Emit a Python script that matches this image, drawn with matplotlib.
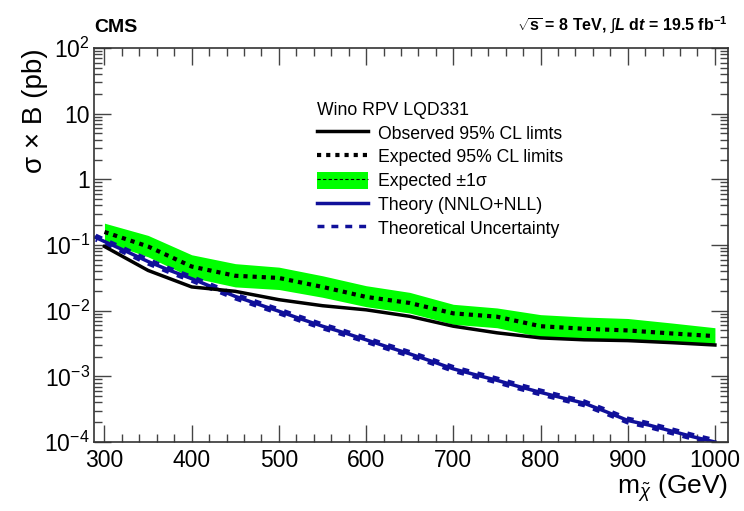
import numpy as np
import matplotlib
matplotlib.use("Agg")
import matplotlib.pyplot as plt
from matplotlib.lines import Line2D
from matplotlib.patches import Patch
from matplotlib.ticker import FixedLocator, LogLocator, NullFormatter, MultipleLocator

plt.rcParams["font.family"] = ["Liberation Sans", "DejaVu Sans"]
plt.rcParams["mathtext.fontset"] = "custom"
plt.rcParams["mathtext.rm"] = "Liberation Sans"
plt.rcParams["mathtext.it"] = "Liberation Sans:italic"
plt.rcParams["mathtext.bf"] = "Liberation Sans:bold"
plt.rcParams["mathtext.bfit"] = "Liberation Sans:bold:italic"

# limits (pb) vs chargino mass (GeV)
mass = [300, 350, 400, 450, 500, 550, 600, 650, 700, 750, 800, 850, 900, 950, 1000]
observed = [0.095, 0.041, 0.023, 0.0197, 0.0147, 0.0119, 0.0103, 0.0082,
            0.0058, 0.0046, 0.00385, 0.0036, 0.0035, 0.00326, 0.0030]
expected = [0.158, 0.095, 0.047, 0.034, 0.0315, 0.023, 0.0162, 0.0131,
            0.0091, 0.0081, 0.0058, 0.0053, 0.0050, 0.0045, 0.0041]
exp_up = [0.215, 0.14, 0.071, 0.052, 0.046, 0.034, 0.024, 0.019,
          0.0125, 0.011, 0.0087, 0.0080, 0.0076, 0.0065, 0.0055]
exp_down = [0.112, 0.066, 0.032, 0.023, 0.021, 0.016, 0.0115, 0.0092,
            0.0062, 0.0055, 0.0040, 0.0037, 0.0036, 0.0033, 0.0031]

theory_mass = [290, 300, 325, 350, 375, 400, 425, 450, 475, 500, 525, 550, 575,
               600, 625, 650, 675, 700, 725, 750, 775, 800, 825, 850, 875, 900,
               925, 950, 975, 1000]
theory = [0.13, 0.113, 0.08, 0.056, 0.041, 0.0307, 0.0225, 0.0165, 0.0127,
          0.0098, 0.0075, 0.0058, 0.0046, 0.0036, 0.0028, 0.0022, 0.0017,
          0.0013, 0.00106, 0.00087, 0.0007, 0.00057, 0.00047, 0.00039,
          0.00029, 0.000213, 0.00018, 0.000147, 0.00012, 0.0001]
theory_err = 0.08  # relative theory uncertainty

blue = "#10109a"

fig = plt.figure(figsize=(7.44, 5.11), dpi=100)
ax = fig.add_axes([94 / 744, 1 - 442 / 511, 634 / 744, 394 / 511])

ax.fill_between(mass, exp_down, exp_up, color="#00ff00", lw=0, zorder=1)
th = np.array(theory)
ax.plot(theory_mass, th, color=blue, lw=2.5, zorder=2)
ax.plot(theory_mass, th * (1 + theory_err), color=blue, lw=2.5, ls=(0, (2, 2.5)), zorder=2)
ax.plot(theory_mass, th * (1 - theory_err), color=blue, lw=2.5, ls=(1.5, (2, 2.5)), zorder=2)
ax.plot(mass, observed, color="black", lw=2.5, zorder=3)
ax.plot(mass, expected, color="black", lw=3, ls=(0, (1, 1.2)), zorder=3)

ax.set_yscale("log")
ax.set_xlim(288, 1015)
ax.set_ylim(1e-4, 1e2)

ax.xaxis.set_major_locator(MultipleLocator(100))
ax.xaxis.set_minor_locator(MultipleLocator(20))
ax.yaxis.set_minor_locator(LogLocator(base=10, subs=np.arange(2, 10), numticks=10))
ax.yaxis.set_minor_formatter(NullFormatter())
ylabels = {1e2: r"10$^{2}$", 1e1: "10", 1e0: "1", 1e-1: r"10$^{-1}$",
           1e-2: r"10$^{-2}$", 1e-3: r"10$^{-3}$", 1e-4: r"10$^{-4}$"}
ax.yaxis.set_major_locator(FixedLocator(list(ylabels.keys())))
ax.set_yticklabels(list(ylabels.values()))

ax.tick_params(which="both", direction="in", top=True, right=True,
               labelsize=16.5, color="#444444")
ax.tick_params(which="major", length=12, width=1)
ax.tick_params(which="minor", length=6, width=1)
ax.tick_params(axis="y", pad=3)
ax.tick_params(axis="x", pad=5)
for s in ax.spines.values():
    s.set_color("#333333")
    s.set_linewidth(1.2)

ax.set_ylabel("σ × B (pb)", fontsize=20, loc="top")
ax.yaxis.set_label_coords(-0.073, 1.0)
ax.set_xlabel(r"m$_{\tilde{\chi}}$ (GeV)", fontsize=19, loc="right", labelpad=0)

fig.text(94 / 744, 1 - 27 / 511, "CMS", fontsize=14, fontweight="bold",
         ha="left", va="center")
fig.text(728 / 744, 1 - 25 / 511,
         r"$\sqrt{\mathbf{s}}$ = 8 TeV, $\int\mathbfit{L}$ d$\mathbfit{t}$ = 19.5 fb$^{\mathbf{-1}}$",
         fontsize=11.5, fontweight="bold", ha="right", va="center")

handles = [
    Line2D([], [], color="black", lw=2.5),
    Line2D([], [], color="black", lw=3, ls=(0, (1, 1.2))),
    (Patch(facecolor="#00ff00", edgecolor="none"), Line2D([], [], color="black", lw=0.8, ls=(0, (3, 2)))),
    Line2D([], [], color=blue, lw=2.5),
    Line2D([], [], color=blue, lw=2.5, ls=(0, (2, 2))),
]
labels = ["Observed 95% CL limts", "Expected 95% CL limits", "Expected ±1σ",
          "Theory (NNLO+NLL)", "Theoretical Uncertainty"]
leg = ax.legend(handles, labels, title="Wino RPV LQD331", title_fontsize=12.7,
                fontsize=12.7, frameon=False, loc="upper left",
                bbox_to_anchor=(308 / 744, 1 - 93 / 511), bbox_transform=fig.transFigure,
                handlelength=2.9, handleheight=1.1, handletextpad=0.55,
                labelspacing=0.3, alignment="left", borderpad=0)

fig.savefig("out.png", dpi=100)
